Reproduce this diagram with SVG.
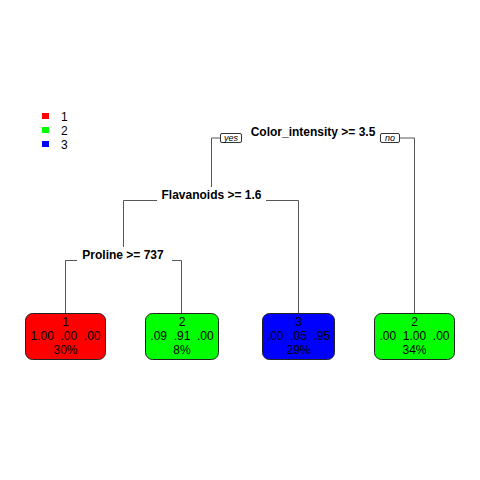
<svg xmlns="http://www.w3.org/2000/svg" width="480" height="480" viewBox="0 0 480 480">
<style>
.split{font-family:"Liberation Sans",Arial,sans-serif;font-size:12px;font-weight:bold;fill:#000;text-anchor:middle}
.leaf{font-family:"Liberation Sans",Arial,sans-serif;font-size:12px;fill:#000;text-anchor:middle}
.leg{font-family:"Liberation Sans",Arial,sans-serif;font-size:12px;fill:#000}
.yn{font-family:"Liberation Sans",Arial,sans-serif;font-size:9px;font-style:italic;fill:#000;text-anchor:middle}
.ynbox{fill:#fff;stroke:#000;stroke-width:0.8}
.box{stroke:#222;stroke-width:1}
.conn{fill:none;stroke:#555;stroke-width:1}
</style>
<rect width="480" height="480" fill="#fff"/>
<g id="legend">
<rect x="42" y="113" width="7" height="6" fill="#ff0000"/>
<text class="leg" x="61" y="121">1</text>
<rect x="42" y="127" width="7" height="6" fill="#00ff00"/>
<text class="leg" x="61" y="135">2</text>
<rect x="42" y="141" width="7" height="6" fill="#0000ff"/>
<text class="leg" x="61" y="149">3</text>
</g>
<g id="connectors">
<polyline class="conn" points="220,138 211.5,138 211.5,187"/>
<polyline class="conn" points="400,138 414.5,138 414.5,313"/>
<polyline class="conn" points="157,200.5 123.5,200.5 123.5,247"/>
<polyline class="conn" points="266,200.5 298.5,200.5 298.5,313"/>
<polyline class="conn" points="77,260.5 65.5,260.5 65.5,313"/>
<polyline class="conn" points="172,260.5 181.5,260.5 181.5,313"/>
</g>
<g id="root">
<text class="split" x="313" y="136">Color_intensity &gt;= 3.5</text>
<rect class="ynbox" x="220.5" y="133.5" width="21" height="9" rx="1.5"/>
<text class="yn" x="231" y="141">yes</text>
<rect class="ynbox" x="380.5" y="133.5" width="19" height="9" rx="1.5"/>
<text class="yn" x="390" y="141">no</text>
</g>
<g id="flavanoids">
<text class="split" x="211.5" y="199">Flavanoids &gt;= 1.6</text>
</g>
<g id="proline">
<text class="split" x="123" y="259">Proline &gt;= 737</text>
</g>
<g id="leaf1">
<rect class="box" x="25.5" y="313.5" width="80" height="46" rx="7" fill="#ff0000"/>
<text class="leaf" x="65.5" y="326">1</text>
<text class="leaf" x="65.5" y="340" xml:space="preserve">1.00  .00  .00</text>
<text class="leaf" x="65.5" y="354">30%</text>
</g>
<g id="leaf2">
<rect class="box" x="145.5" y="313.5" width="73" height="46" rx="7" fill="#00ff00"/>
<text class="leaf" x="182" y="326">2</text>
<text class="leaf" x="182" y="340" xml:space="preserve">.09  .91  .00</text>
<text class="leaf" x="182" y="354">8%</text>
</g>
<g id="leaf3">
<rect class="box" x="262.5" y="313.5" width="72" height="46" rx="7" fill="#0000ff"/>
<text class="leaf" x="298.5" y="326">3</text>
<text class="leaf" x="298.5" y="340" xml:space="preserve">.00  .05  .95</text>
<text class="leaf" x="298.5" y="354">29%</text>
</g>
<g id="leaf4">
<rect class="box" x="374.5" y="313.5" width="80" height="46" rx="7" fill="#00ff00"/>
<text class="leaf" x="414.5" y="326">2</text>
<text class="leaf" x="414.5" y="340" xml:space="preserve">.00  1.00  .00</text>
<text class="leaf" x="414.5" y="354">34%</text>
</g>
</svg>
